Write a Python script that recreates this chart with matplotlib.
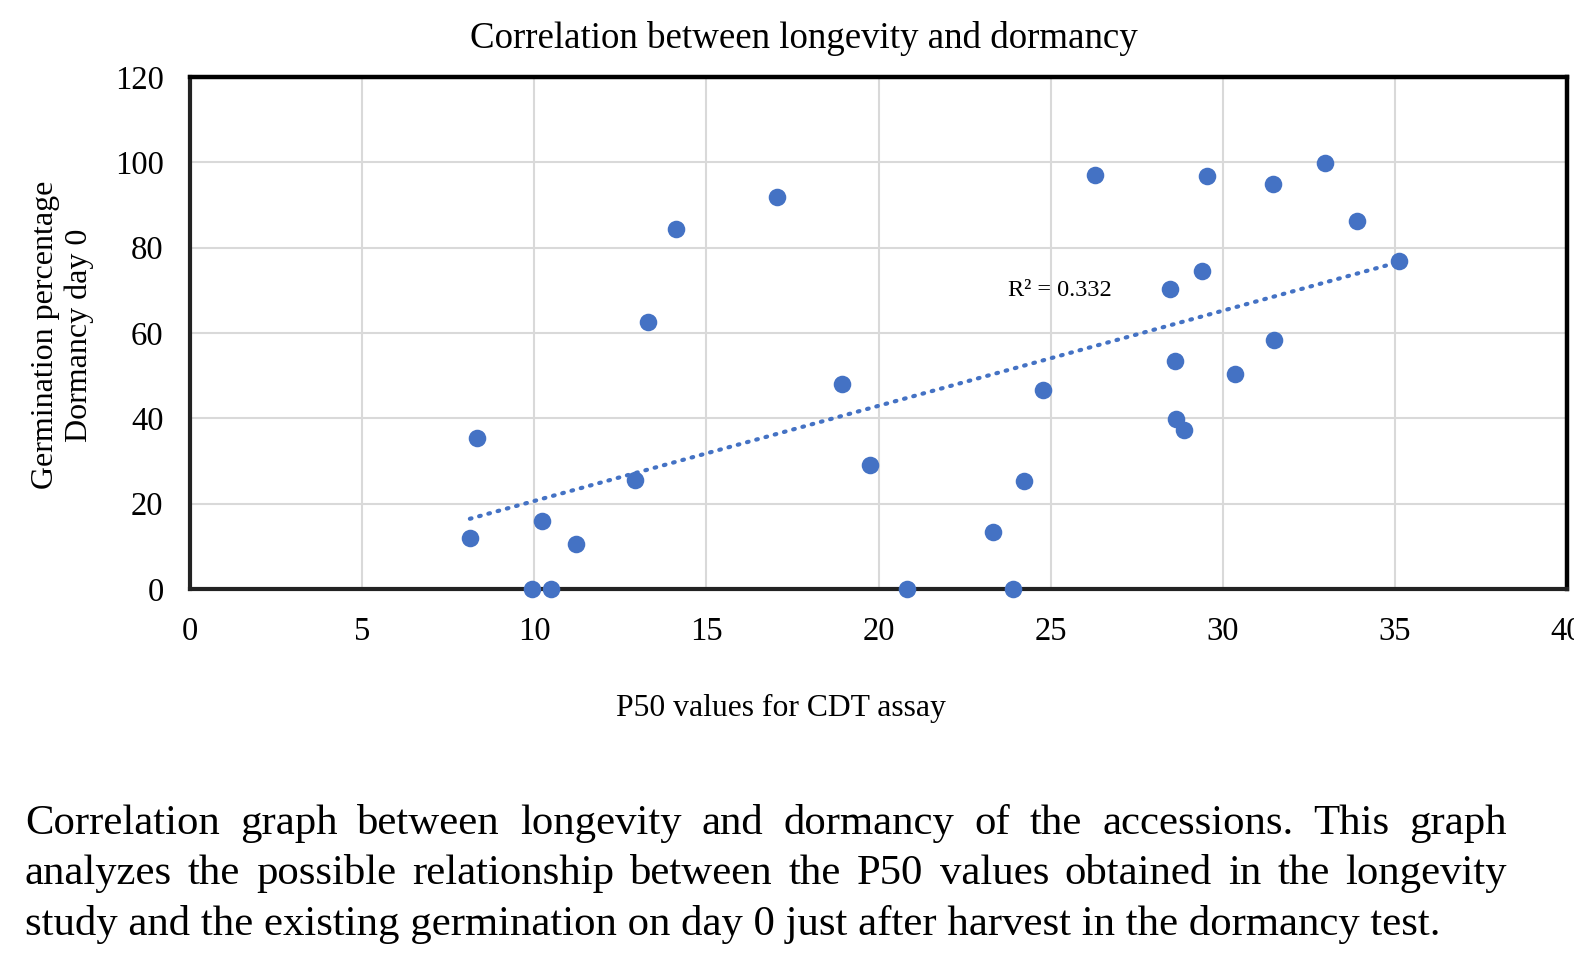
import numpy as np
import matplotlib
matplotlib.use("Agg")
import matplotlib.pyplot as plt

plt.rcParams['font.family'] = ['Liberation Serif', 'DejaVu Serif']

# P50 values (CDT assay) and germination % at day 0
p50 = [8.13, 8.35, 9.94, 10.48, 10.23, 11.22, 12.92, 13.30, 14.12, 17.05,
       18.93, 19.76, 20.84, 23.32, 23.92, 24.23, 24.77, 26.29, 28.46, 28.62,
       28.65, 28.87, 29.40, 29.53, 30.36, 31.45, 31.48, 32.97, 33.90, 35.13]
germ = [11.9, 35.3, 0, 0, 16.0, 10.5, 25.5, 62.6, 84.4, 91.9,
        48.0, 29.0, 0, 13.3, 0, 25.3, 46.7, 97.05, 70.4, 53.5,
        39.8, 37.3, 74.6, 96.7, 50.3, 94.95, 58.4, 99.9, 86.2, 76.9]

x_ticks = [0, 5, 10, 15, 20, 25, 30, 35, 40]
y_ticks = [0, 20, 40, 60, 80, 100, 120]

title = "Correlation between longevity and dormancy"
xlabel = "P50 values for CDT assay"
ylabel = "Germination percentage\nDormancy day 0"
r2_label = "R² = 0.332"
caption = [
    "Correlation graph between longevity and dormancy of the accessions. This graph",
    "analyzes the possible relationship between the P50 values obtained in the longevity",
    "study and the existing germination on day 0 just after harvest in the dormancy test.",
]

W, H = 1574, 956
blue = '#4472C4'

fig = plt.figure(figsize=(W / 100, H / 100), dpi=100)
ax = fig.add_axes([190 / W, 1 - 589 / H, (1567 - 190) / W, (589 - 77) / H])

ax.scatter(p50, germ, s=160, color=blue, zorder=4, clip_on=False, linewidths=0)

slope, icpt = np.polyfit(p50, germ, 1)
xs = np.array([min(p50), max(p50)])
ax.plot(xs, slope * xs + icpt, linestyle=(0, (0.4, 1.9)), color=blue, lw=3,
        dash_capstyle='round', zorder=3)
ax.text(23.75, 70, r2_label, fontsize=17.5, va='center', ha='left')

ax.set_xlim(0, 40)
ax.set_ylim(0, 120)
ax.set_xticks(x_ticks)
ax.set_yticks(y_ticks)
ax.tick_params(length=0, labelsize=23.5)
ax.tick_params(axis='x', pad=20)
ax.tick_params(axis='y', pad=19)
ax.grid(color='#d9d9d9', lw=1.5)
ax.set_axisbelow(True)
for side in ['top', 'right']:
    ax.spines[side].set_linewidth(3.2)
    ax.spines[side].set_color('black')
for side in ['left', 'bottom']:
    ax.spines[side].set_linewidth(3)
    ax.spines[side].set_color('#222222')

fig.text(804 / W, 1 - 39 / H, title, fontsize=26.6, ha='center', va='center')
fig.text(781 / W, 1 - 708 / H, xlabel, fontsize=22.8, ha='center', va='center')
fig.text(63 / W, 1 - 335 / H, ylabel, fontsize=23, ha='center', va='center',
         rotation=90, linespacing=1.2)

# caption, first two lines justified
renderer = fig.canvas.get_renderer()
baselines = [834, 884, 935]
x0, x1 = 25, 1507
for i, line in enumerate(caption):
    y = 1 - baselines[i] / H
    if i < len(caption) - 1:
        words = line.split()
        texts = [fig.text(0, y, w, fontsize=30.8, va='baseline') for w in words]
        widths = [t.get_window_extent(renderer).width for t in texts]
        gap = (x1 - x0 - sum(widths)) / (len(words) - 1)
        x = x0
        for t, w in zip(texts, widths):
            t.set_x(x / W)
            x += w + gap
    else:
        fig.text(x0 / W, y, line, fontsize=30.8, va='baseline')

fig.savefig('out.png', dpi=100)
